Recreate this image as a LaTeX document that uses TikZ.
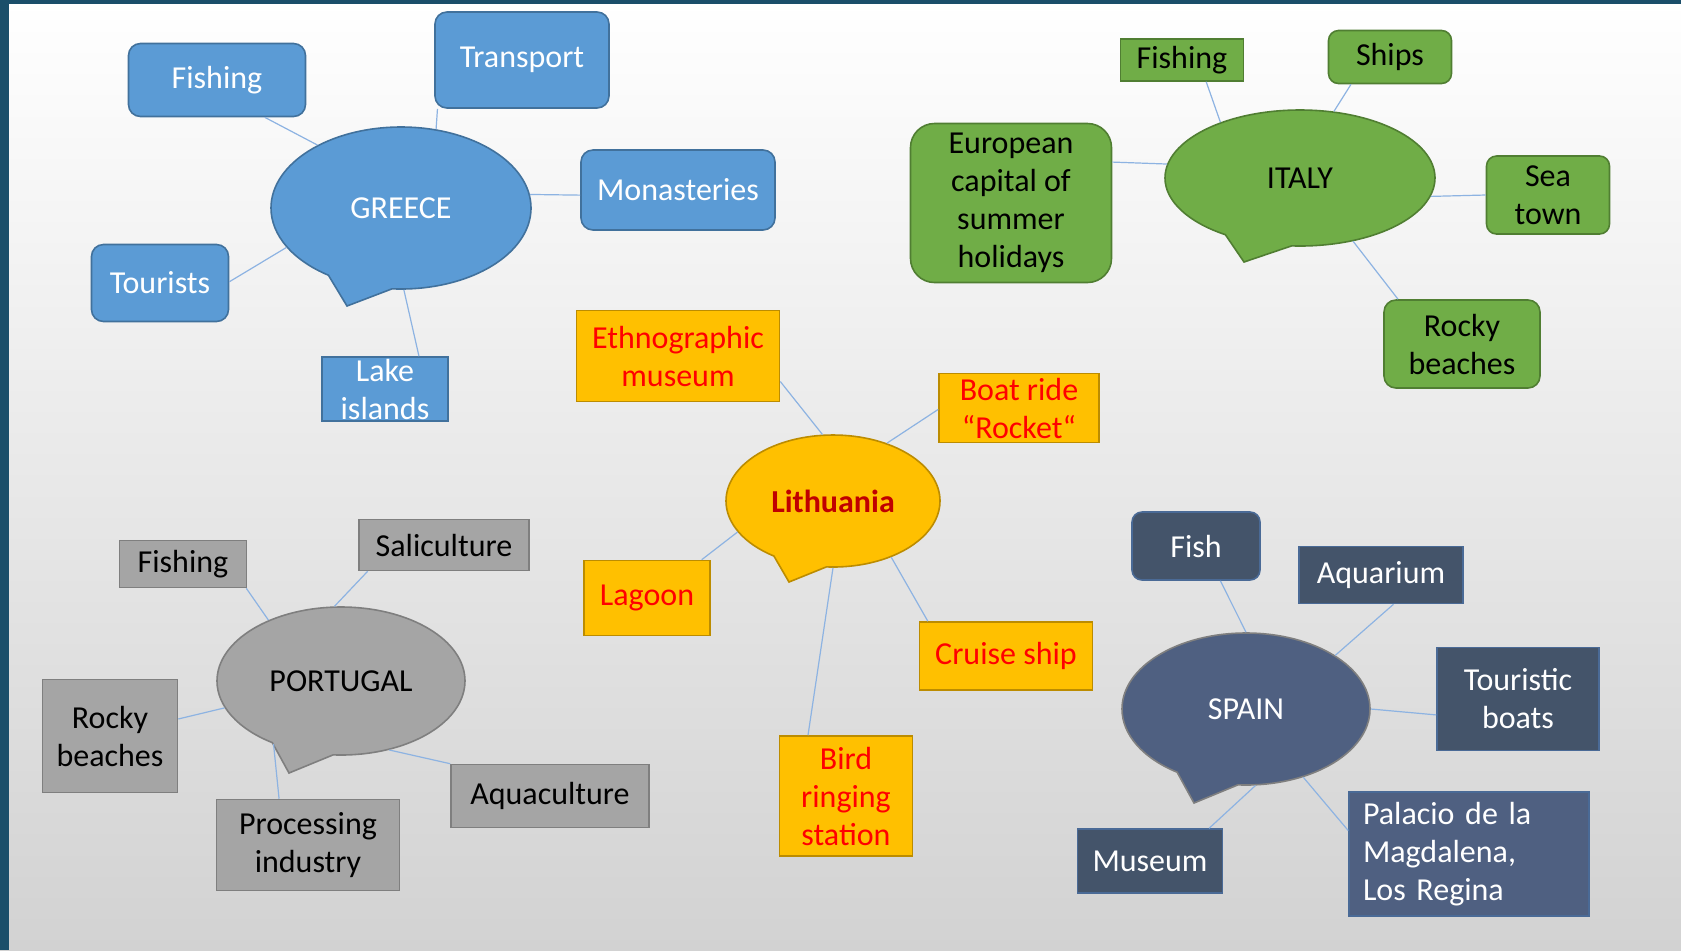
\documentclass[tikz,border=0pt]{standalone}
\usepackage{fontspec}
\setmainfont{Carlito}
\usetikzlibrary{shapes.callouts}

\definecolor{frame}{HTML}{1B4F6A}
\definecolor{bggray}{HTML}{D2D2D2}
\definecolor{bgmid}{HTML}{F4F4F4}
\definecolor{grblue}{HTML}{5B9BD5}
\definecolor{grline}{HTML}{41719C}
\definecolor{itgreen}{HTML}{70AD47}
\definecolor{itline}{HTML}{507E32}
\definecolor{ltorange}{HTML}{FFC000}
\definecolor{ltline}{HTML}{BC8C00}
\definecolor{ltred}{HTML}{FF0000}
\definecolor{ltdark}{HTML}{C00000}
\definecolor{ptgray}{HTML}{A5A5A5}
\definecolor{ptline}{HTML}{7F7F7F}
\definecolor{spdark}{HTML}{44546A}
\definecolor{spmid}{HTML}{4F6081}
\definecolor{spline}{HTML}{4A6A96}
\definecolor{link}{HTML}{8DB3E2}

\newcommand\boxfont{\fontsize{16}{19}\selectfont}

\tikzset{
 box/.style={draw, line width=0.8pt, inner sep=0pt, align=center, font=\boxfont},
 bubble/.style={box, ellipse callout, callout pointer arc=30},
 grnode/.style={box, fill=grblue, draw=grline, text=white},
 itnode/.style={box, fill=itgreen, draw=itline, text=black},
 ltnode/.style={box, fill=ltorange, draw=ltline, text=ltred},
 ptnode/.style={box, fill=ptgray, draw=ptline, text=black},
 spnode/.style={box, fill=spdark, draw=spline, text=white},
 link/.style={draw=link, line width=0.6pt},
}

\begin{document}
\begin{tikzpicture}[x=0.5pt, y=-0.5pt]
\useasboundingbox (0,0) rectangle (1681,950);
\shade[top color=white, middle color=bgmid, bottom color=bggray] (0,0) rectangle (1681,950);
\fill[frame] (0,0) rectangle (9,950);
\fill[frame] (0,0) rectangle (1681,4);

\node[bubble, grnode, minimum width=130pt, minimum height=81pt, callout absolute pointer={(347,306)}] (greece) at (401,208) {GREECE};
\node[grnode, rounded corners=6pt, minimum width=88.5pt, minimum height=36.5pt] (gfish) at (217,80) {Fishing};
\node[grnode, rounded corners=6pt, minimum width=87pt, minimum height=48pt] (gtrans) at (522,60) {Transport};
\node[grnode, rounded corners=6pt, minimum width=97pt, minimum height=40pt] (gmon) at (678,190) {Monasteries};
\node[grnode, rounded corners=6pt, minimum width=68.5pt, minimum height=38.5pt] (gtour) at (160,283) {Tourists};
\node[grnode, minimum width=63pt, minimum height=32pt] (glake) at (385,389) {Lake\\islands};

\node[bubble, itnode, minimum width=135pt, minimum height=68pt, callout absolute pointer={(1244,262)}] (italy) at (1300,178) {ITALY};
\node[itnode, minimum width=61.5pt, minimum height=21pt] (ifish) at (1182,60) {Fishing};
\node[itnode, rounded corners=5pt, minimum width=61.5pt, minimum height=26.5pt] (iships) at (1390,57) {Ships};
\node[itnode, rounded corners=12pt, minimum width=100.5pt, minimum height=79.5pt] (ieuro) at (1011,203) {European\\capital of\\summer\\holidays};
\node[itnode, rounded corners=5pt, minimum width=61.5pt, minimum height=39pt] (isea) at (1548,195) {Sea\\town};
\node[itnode, rounded corners=6pt, minimum width=78pt, minimum height=44pt] (irocky) at (1462,344) {Rocky\\beaches};

\node[bubble, ltnode, minimum width=107pt, minimum height=66pt, callout absolute pointer={(789,582)}, text=ltdark, font=\boxfont\bfseries] (lith) at (833,501) {Lithuania};
\node[ltnode, minimum width=101.5pt, minimum height=45.5pt] (lethno) at (678,356) {Ethnographic\\museum};
\node[ltnode, minimum width=80pt, minimum height=34.5pt] (lboat) at (1019,408) {Boat ride\\“Rocket“};
\node[ltnode, minimum width=63pt, minimum height=37.5pt] (llag) at (647,598) {Lagoon};
\node[ltnode, minimum width=86.5pt, minimum height=34pt] (lcruise) at (1006,656) {Cruise ship};
\node[ltnode, minimum width=66.5pt, minimum height=60pt] (lbird) at (846,796) {Bird\\ringing\\station};

\node[bubble, ptnode, minimum width=124pt, minimum height=74pt, callout absolute pointer={(289,773)}] (port) at (341,681) {PORTUGAL};
\node[ptnode, minimum width=63.5pt, minimum height=23.5pt] (pfish) at (183,564) {Fishing};
\node[ptnode, minimum width=85pt, minimum height=25.5pt] (psal) at (444,545) {Saliculture};
\node[ptnode, minimum width=67.5pt, minimum height=56.5pt] (procky) at (110,736) {Rocky\\beaches};
\node[ptnode, minimum width=91.5pt, minimum height=45.5pt] (pproc) at (308,845) {Processing\\industry};
\node[ptnode, minimum width=99pt, minimum height=31.5pt] (paqua) at (550,796) {Aquaculture};

\node[bubble, spnode, fill=spmid, draw=ptline, minimum width=124pt, minimum height=76pt, callout absolute pointer={(1194,803)}] (spain) at (1246,709) {SPAIN};
\node[spnode, rounded corners=5pt, minimum width=64pt, minimum height=34pt] (sfish) at (1196,546) {Fish};
\node[spnode, minimum width=82pt, minimum height=28.5pt] (saqua) at (1381,575) {Aquarium};
\node[spnode, minimum width=81pt, minimum height=51.5pt] (stour) at (1518,699) {Touristic\\boats};
\node[spnode, minimum width=72.5pt, minimum height=32pt] (smus) at (1150,861) {Museum};
\node[spnode, fill=spmid, align=left, text width=106pt, inner xsep=7pt, minimum height=62pt] (spal) at (1469,854) {Palacio de la\\Magdalena,\\Los Regina};

\foreach \a/\b in {gfish.-38/greece.143, gtrans.-150/greece.66, gmon.-177/greece.6, gtour.1/greece.-161, glake.44/greece.-88,
 ifish.-42/italy.145, iships.-145/italy.63, ieuro.22/italy.174, isea.180/italy.-8, irocky.145/italy.-50,
 lethno.-14/lith.99, lboat.-179/lith.47, llag.35/lith.-162, lcruise.156/lith.-44, lbird.122/lith.-90,
 pfish.-21/port.140, psal.-161/port.95, procky.14/port.-167, pproc.122/port.-137, paqua.north west/port.-55,
 sfish.-55/spain.90, saqua.-67/spain.31, stour.-169/spain.0, smus.29/spain.-83, spal.169/spain.-50}
 \draw[link] (\a) -- (\b);
\end{tikzpicture}
\end{document}
